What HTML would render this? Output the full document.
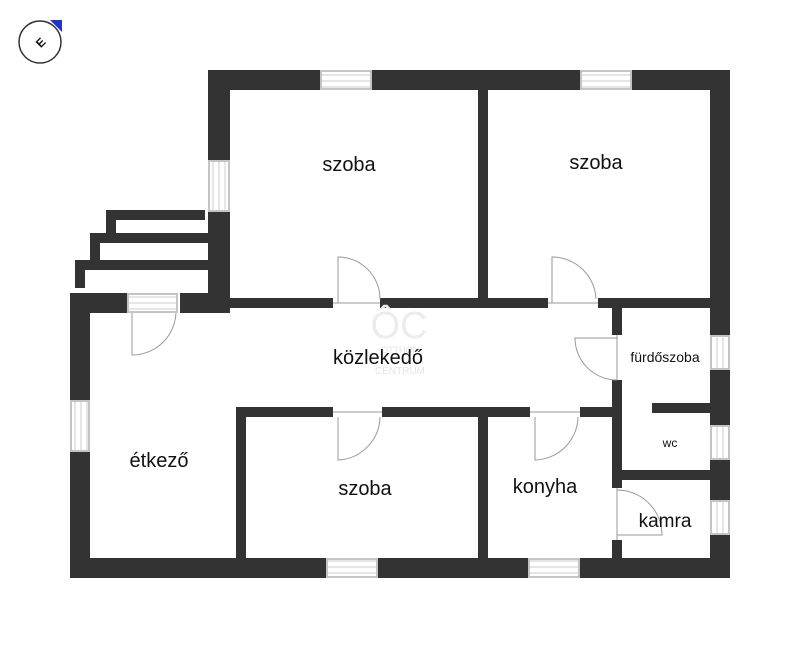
<!DOCTYPE html>
<html><head><style>body{margin:0;background:#fff}svg{display:block}text{font-family:"Liberation Sans",sans-serif;fill:#111}</style></head><body>
<svg width="800" height="649" viewBox="0 0 800 649" xmlns="http://www.w3.org/2000/svg">
<defs>
<pattern id="wh" width="4" height="6" patternUnits="userSpaceOnUse"><rect width="4" height="6" fill="#fff"/><line x1="0" y1="3" x2="4" y2="3" stroke="#ccc" stroke-width="1"/></pattern>
<pattern id="wv" width="6" height="4" patternUnits="userSpaceOnUse"><rect width="6" height="4" fill="#fff"/><line x1="3" y1="0" x2="3" y2="4" stroke="#ccc" stroke-width="1"/></pattern>
</defs>
<g fill="#333">
<rect x="208" y="70" width="522" height="20"/>
<rect x="208" y="70" width="22" height="243"/>
<rect x="710" y="70" width="20" height="508"/>
<rect x="478" y="90" width="10" height="212"/>
<rect x="228" y="298" width="484" height="10"/>
<rect x="180" y="293" width="50" height="20"/>
<rect x="70" y="293" width="60" height="20"/>
<rect x="70" y="293" width="20" height="285"/>
<rect x="70" y="558" width="660" height="20"/>
<rect x="236" y="407" width="376" height="10"/>
<rect x="236" y="407" width="10" height="153"/>
<rect x="478" y="417" width="10" height="143"/>
<rect x="612" y="308" width="10" height="252"/>
<rect x="652" y="403" width="60" height="10"/>
<rect x="622" y="470" width="90" height="10"/>
<rect x="106" y="210" width="99" height="10"/><rect x="106" y="210" width="10" height="23"/>
<rect x="90" y="233" width="118" height="10"/><rect x="90" y="233" width="10" height="27"/>
<rect x="75" y="260" width="133" height="10"/><rect x="75" y="260" width="10" height="28"/>
</g>
<g stroke="#c4c4c4" stroke-width="2">
<rect x="321" y="71" width="50" height="18" fill="url(#wh)"/><rect x="581" y="71" width="50" height="18" fill="url(#wh)"/>
<rect x="327" y="559" width="50" height="18" fill="url(#wh)"/><rect x="529" y="559" width="50" height="18" fill="url(#wh)"/>
<rect x="128" y="294" width="49" height="18" fill="url(#wh)"/>
<rect x="71" y="401" width="18" height="50" fill="url(#wv)"/>
<rect x="209" y="161" width="20" height="50" fill="url(#wv)"/>
<rect x="711" y="336" width="18" height="33" fill="url(#wv)"/><rect x="711" y="426" width="18" height="33" fill="url(#wv)"/><rect x="711" y="501" width="18" height="33" fill="url(#wv)"/>
</g>
<g fill="#fff">
<rect x="333" y="297" width="47" height="12"/><rect x="548" y="297" width="50" height="12"/>
<rect x="333" y="406" width="49" height="12"/><rect x="530" y="406" width="50" height="12"/>
<rect x="611" y="335" width="12" height="45"/><rect x="611" y="488" width="12" height="52"/>
</g>
<g fill="none" stroke="#999" stroke-width="1">
<path d="M338 303V257A42 42 0 0 1 380 299"/>
<path d="M552 303V257A44 44 0 0 1 596 299"/>
<path d="M132 313V355A44 44 0 0 0 176 313"/>
<path d="M338 417V460A44 44 0 0 0 380 417"/>
<path d="M535 417V460A44 44 0 0 0 578 417"/>
<path d="M617 338H575A42 42 0 0 0 617 380"/>
<path d="M617 490A45 45 0 0 1 662 535H617"/>
<line x1="333" y1="303" x2="380" y2="303"/><line x1="548" y1="303" x2="598" y2="303"/>
<line x1="333" y1="412" x2="382" y2="412"/><line x1="530" y1="412" x2="580" y2="412"/>
<line x1="617" y1="335" x2="617" y2="380"/><line x1="617" y1="488" x2="617" y2="540"/>
</g>
<circle cx="40" cy="42" r="21" fill="#fff" stroke="#333" stroke-width="1.5"/>
<path d="M50 20L62 20L62 32Z" fill="#2233cc"/>
<text x="40" y="47" font-size="12" text-anchor="middle" transform="rotate(-45 40 42)" font-weight="bold">E</text>
<text x="399" y="338" font-size="38" text-anchor="middle" style="fill:#ececec">ÔC</text>
<text x="400" y="374" font-size="10" text-anchor="middle" style="fill:#e4e4e4">CENTRUM</text>
<text x="400" y="353" font-size="9" text-anchor="middle" style="fill:#e4e4e4">OTTHON</text>
<text x="349" y="171" font-size="20" text-anchor="middle">szoba</text>
<text x="596" y="169" font-size="20" text-anchor="middle">szoba</text>
<text x="378" y="364" font-size="20" text-anchor="middle">közlekedő</text>
<text x="159" y="467" font-size="20" text-anchor="middle">étkező</text>
<text x="365" y="495" font-size="20" text-anchor="middle">szoba</text>
<text x="545" y="493" font-size="20" text-anchor="middle">konyha</text>
<text x="665" y="362" font-size="14" text-anchor="middle">fürdőszoba</text>
<text x="670" y="447" font-size="12" text-anchor="middle">wc</text>
<text x="665" y="527" font-size="19" text-anchor="middle">kamra</text>
</svg>
</body></html>
